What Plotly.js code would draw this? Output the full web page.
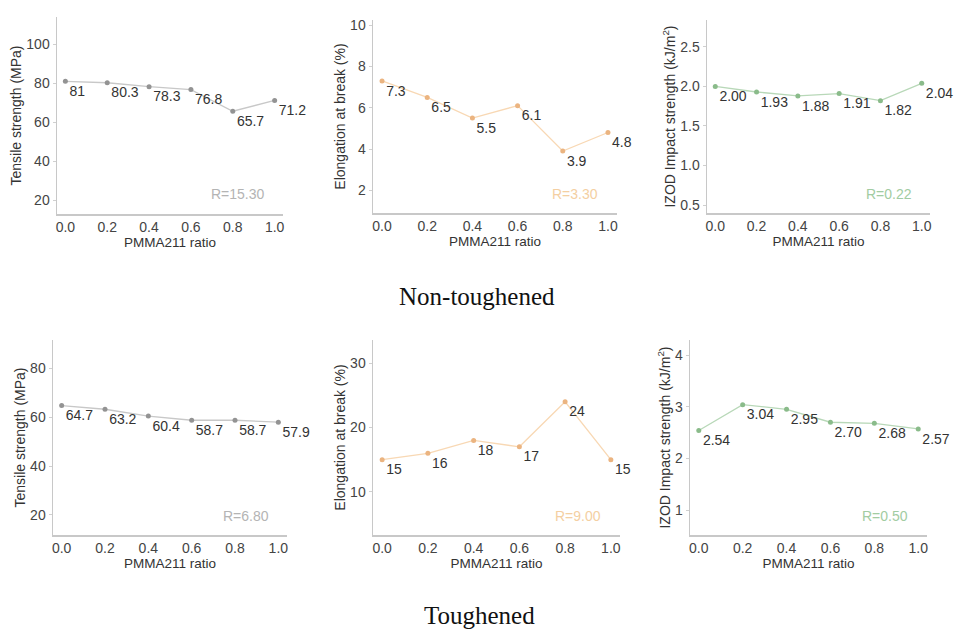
<!DOCTYPE html>
<html>
<head>
<meta charset="utf-8">
<script src="https://cdn.plot.ly/plotly-3.0.1.min.js"></script>
<style>html,body{margin:0;padding:0;background:#fff;}#chart{width:955px;height:635px;}</style>
</head>
<body>
<div id="chart"></div>
<script>
const ratio = [0.0, 0.2, 0.4, 0.6, 0.8, 1.0];
const xTickVals = [0.0, 0.2, 0.4, 0.6, 0.8, 1.0];
const xTickText = ["0.0", "0.2", "0.4", "0.6", "0.8", "1.0"];

// Non-toughened
const tensileNT = [81, 80.3, 78.3, 76.8, 65.7, 71.2];
const elongNT = [7.3, 6.5, 5.5, 6.1, 3.9, 4.8];
const izodNT = [2.00, 1.93, 1.88, 1.91, 1.82, 2.04];
// Toughened
const tensileT = [64.7, 63.2, 60.4, 58.7, 58.7, 57.9];
const elongT = [15, 16, 18, 17, 24, 15];
const izodT = [2.54, 3.04, 2.95, 2.70, 2.68, 2.57];

const rLabels = ["R=15.30", "R=3.30", "R=0.22", "R=6.80", "R=9.00", "R=0.50"];
const yTitles = [
  "Tensile strength (MPa)", "Elongation at break (%)", "IZOD Impact strength (kJ/m<sup>2</sup>)",
  "Tensile strength (MPa)", "Elongation at break (%)", "IZOD Impact strength (kJ/m<sup>2</sup>)"
];
const yTicks = [
  [20, 40, 60, 80, 100], [2, 4, 6, 8, 10], [0.5, 1.0, 1.5, 2.0, 2.5],
  [20, 40, 60, 80], [10, 20, 30], [1, 2, 3, 4]
];
const yTickText = [
  ["20","40","60","80","100"], ["2","4","6","8","10"], ["0.5","1.0","1.5","2.0","2.5"],
  ["20","40","60","80"], ["10","20","30"], ["1","2","3","4"]
];
const yRanges = [[13, 114], [0.9, 10.25], [0.4, 2.84], [11.8, 91.5], [3.3, 33.6], [0.52, 4.29]];
const captions = ["Non-toughened", "Toughened"];

const W = 955, H = 635;
const boxes = [ // pixel boxes [x0,x1,y0,y1]
  [57, 283, 17, 214], [373, 617, 20, 213], [707, 930, 20, 213],
  [53, 287, 340, 535], [373, 620, 340, 535], [690, 927, 340, 535]
];
const series = [tensileNT, elongNT, izodNT, tensileT, elongT, izodT];
const lineCols = ["#c8c8c8", "#f8d8b4", "#b8d8b8", "#c8c8c8", "#f8d8b4", "#b8d8b8"];
const markCols = ["#939393", "#ebb480", "#8abb8a", "#939393", "#ebb480", "#8abb8a"];
const rCols = ["#b4b4b4", "#f4cfa2", "#a2cca2", "#b4b4b4", "#f4cfa2", "#a2cca2"];
const fmts = ["%{y}", "%{y}", "%{y:.2f}", "%{y}", "%{y}", "%{y:.2f}"];

const traces = [];
const layout = {
  width: W, height: H,
  margin: {l: 0, r: 0, t: 0, b: 0},
  paper_bgcolor: "#fff", plot_bgcolor: "#fff",
  showlegend: false,
  font: {family: "Liberation Sans, Arial, sans-serif", size: 13, color: "#333"},
  annotations: []
};

series.forEach((ys, i) => {
  const n = i + 1;
  const xa = n === 1 ? "x" : "x" + n;
  const ya = n === 1 ? "y" : "y" + n;
  traces.push({
    x: ratio, y: ys, xaxis: xa, yaxis: ya,
    type: "scatter", mode: "lines+markers+text",
    line: {color: lineCols[i], width: 1.3},
    marker: {color: markCols[i], size: 5},
    texttemplate: fmts[i], textposition: "bottom right",
    textfont: {size: 14, color: "#333", family: "Liberation Sans, Arial, sans-serif"},
    cliponaxis: false, hoverinfo: "skip"
  });
  const b = boxes[i];
  const xk = n === 1 ? "xaxis" : "xaxis" + n;
  const yk = n === 1 ? "yaxis" : "yaxis" + n;
  layout[xk] = {
    domain: [b[0] / W, b[1] / W], anchor: ya,
    range: [-0.04, 1.04], tickvals: xTickVals, ticktext: xTickText,
    showgrid: false, zeroline: false, showline: true, linecolor: "#c8c8c8", linewidth: 1.5,
    ticks: "", tickfont: {size: 14, color: "#444"},
    title: {text: "PMMA211 ratio", font: {size: 13.5, color: "#333"}, standoff: 1}
  };
  layout[yk] = {
    domain: [1 - b[3] / H, 1 - b[2] / H], anchor: xa,
    range: yRanges[i], tickvals: yTicks[i], ticktext: yTickText[i],
    showgrid: false, zeroline: false, showline: true, linecolor: "#c8c8c8", linewidth: 1.5,
    ticks: "outside", ticklen: 3, tickcolor: "#d0d0d0",
    tickfont: {size: 14, color: "#444"},
    title: {text: yTitles[i], font: {size: 14, color: "#333"}, standoff: 1}
  };
  layout.annotations.push({
    xref: xa + " domain", yref: ya + " domain", x: 0.93, y: 0.1,
    xanchor: "right", yanchor: "middle", showarrow: false,
    text: rLabels[i], font: {size: 14, color: rCols[i]}
  });
});

layout.annotations.push({
  xref: "paper", yref: "paper", x: 477 / W, y: 1 - 297 / H, xanchor: "center", yanchor: "middle",
  showarrow: false, text: captions[0],
  font: {family: "Liberation Serif, Times New Roman, serif", size: 25, color: "#111"}
});
layout.annotations.push({
  xref: "paper", yref: "paper", x: 479 / W, y: 1 - 615 / H, xanchor: "center", yanchor: "middle",
  showarrow: false, text: captions[1],
  font: {family: "Liberation Serif, Times New Roman, serif", size: 25, color: "#111"}
});

Plotly.newPlot("chart", traces, layout, {staticPlot: true, displayModeBar: false});
</script>
</body>
</html>
